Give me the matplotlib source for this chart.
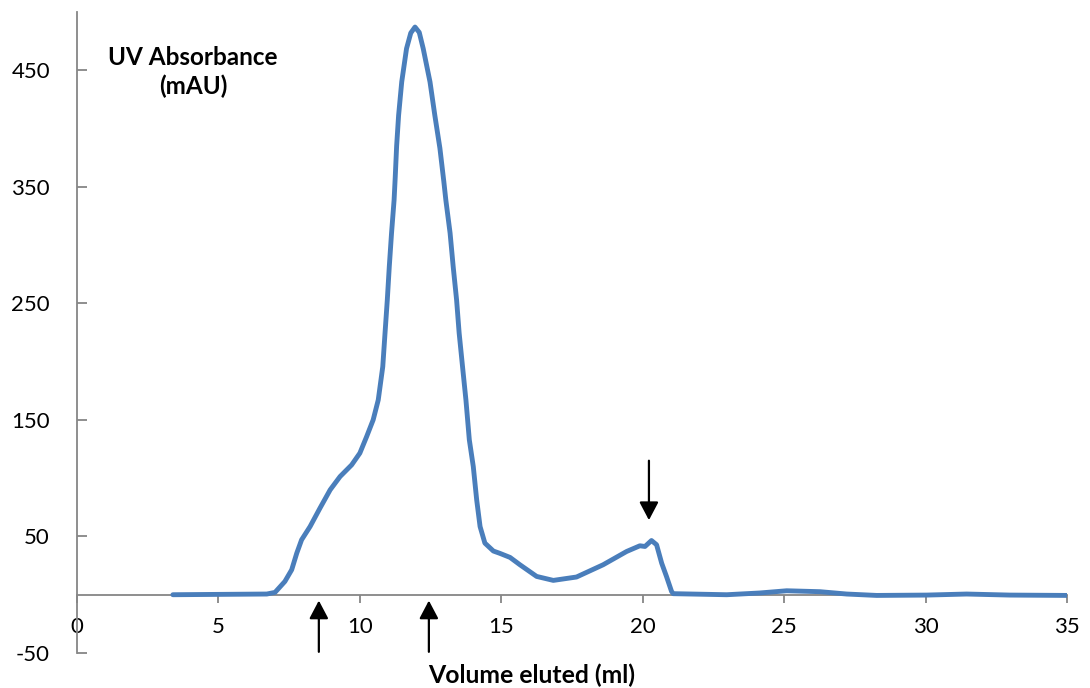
import matplotlib
matplotlib.use("Agg")
import matplotlib.pyplot as plt

# Chromatogram trace (volume in ml, absorbance in mAU)
volume = [3.39, 6.71, 7.00, 7.35, 7.59, 7.77, 7.94, 8.24, 8.59, 8.95, 9.30, 9.71,
          10.00, 10.24, 10.47, 10.65, 10.81, 10.89, 10.97, 11.04, 11.12, 11.21,
          11.25, 11.30, 11.37, 11.48, 11.65, 11.80, 11.95, 12.10, 12.24, 12.48, 12.65,
          12.83, 12.97, 13.04, 13.19, 13.30, 13.42, 13.51, 13.63, 13.75, 13.87,
          14.01, 14.13, 14.25, 14.42, 14.72, 14.95, 15.31, 15.66, 16.25, 16.84,
          17.66, 18.60, 19.43, 19.90, 20.08, 20.31, 20.49, 20.67, 20.84, 21.02,
          21.08, 22.97, 24.14, 25.09, 26.27, 27.21, 28.27, 30.04, 31.45, 32.98, 35.0]
absorbance = [0, 0.6, 2.0, 11.4, 21.4, 35.7, 47.1, 58.5, 74.3, 90.0, 101.4, 111.4,
              121.5, 135.7, 150.0, 167.1, 195.7, 224.6, 252.9, 281.4, 310.3, 338.6,
              358.0, 385.0, 411.4, 440.0, 468.6, 482.0, 487.1, 482.5, 468.6, 440.0, 411.4,
              383.1, 354.2, 338.6, 310.3, 281.4, 252.9, 224.6, 195.7, 167.1, 132.9,
              110.0, 81.4, 58.5, 44.3, 37.5, 35.5, 32.0, 25.7, 15.7, 12.3,
              15.2, 25.7, 37.1, 42.0, 41.4, 46.5, 42.9, 27.1, 15.7, 2.8,
              0.9, 0, 1.5, 3.4, 2.6, 0.6, -0.6, -0.3, 0.6, -0.3, -0.6]

x_ticks = [0, 5, 10, 15, 20, 25, 30, 35]
y_ticks = [-50, 50, 150, 250, 350, 450]

# arrows: (x, y_tail, y_tip)
up_arrows = [(8.55, -49, -5), (12.44, -49, -5)]
down_arrows = [(20.22, 115, 64)]

plt.rcParams['font.family'] = ['Lato', 'DejaVu Sans']
plt.rcParams['axes.unicode_minus'] = False

fig = plt.figure(figsize=(10.9, 6.88), dpi=100)
ax = fig.add_axes([77 / 1090, 35 / 688, (1067 - 77) / 1090, (653 - 12) / 688])

ax.plot(volume, absorbance, color='#4a7ebb', lw=3.5, solid_capstyle='round',
        solid_joinstyle='round')

ax.set_xlim(0, 35)
ax.set_ylim(-50, 500)
ax.set_xticks(x_ticks)
ax.set_yticks(y_ticks)

axis_col = '#868686'
for s in ['top', 'right']:
    ax.spines[s].set_visible(False)
ax.spines['bottom'].set_position(('data', 0))
ax.spines['bottom'].set_color(axis_col)
ax.spines['left'].set_color(axis_col)
ax.spines['bottom'].set_linewidth(1.3)
ax.spines['left'].set_linewidth(1.3)
ax.spines['bottom'].set_zorder(1)

ax.tick_params(axis='x', direction='out', length=6, width=1.3, color=axis_col,
               labelsize=16, pad=10)
ax.tick_params(axis='y', direction='in', length=7, width=1.3, color=axis_col,
               labelsize=16, pad=19.5)

for (x, y0, y1) in up_arrows + down_arrows:
    ax.annotate('', xy=(x, y1), xytext=(x, y0),
                arrowprops=dict(arrowstyle='-|>,head_length=0.55,head_width=0.29',
                                color='black', lw=1.6, shrinkA=0, shrinkB=0,
                                mutation_scale=20),
                annotation_clip=False)

fig.text(193 / 1090, 1 - 72 / 688, 'UV Absorbance\n(mAU)', ha='center', va='center',
         fontsize=17.5, fontweight='bold', linespacing=1.3)
fig.text(532 / 1090, 1 - 675 / 688, 'Volume eluted (ml)', ha='center', va='center',
         fontsize=17.8, fontweight='bold')

fig.savefig('out.png', dpi=100)
